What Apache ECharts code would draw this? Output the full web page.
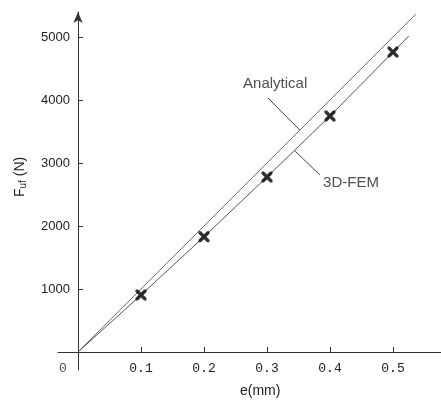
<!DOCTYPE html>
<html>
<head>
<meta charset="utf-8">
<script src="https://cdn.jsdelivr.net/npm/echarts@6/dist/echarts.min.js"></script>
<style>
  html, body { margin: 0; padding: 0; background: #fff; }
  #chart { width: 441px; height: 402px; }
</style>
</head>
<body>
<div id="chart"></div>
<script>
// Load vs. eccentricity: analytical line, 3D-FEM curve and FEM sample points
const xTicks = [0.1, 0.2, 0.3, 0.4, 0.5];
const yTicks = [1000, 2000, 3000, 4000, 5000];

const analyticalE = [0, 0.536];
const analyticalF = [0, 5360];

const femLineE = [0, 0.1, 0.2, 0.3, 0.4, 0.5, 0.525];
const femLineF = [0, 905, 1830, 2778, 3746, 4760, 5016];

const femPointE = [0.1, 0.2, 0.3, 0.4, 0.5];
const femPointF = [905, 1830, 2778, 3746, 4760];

// leader lines and label anchors for the curve names
const analyticalLeaderE = [0.3016, 0.352];
const analyticalLeaderF = [4032, 3524];
const femLeaderE = [0.3444, 0.384];
const femLeaderF = [3190, 2810];
const analyticalTextAt = [0.262, 4254];
const femTextAt = [0.389, 2683];

const pairs = (xs, ys) => xs.map((x, i) => [x, ys[i]]);

const cross = 'path://M0,0 L2.2,0 L5,2.8 L7.8,0 L10,0 L10,2.2 L7.2,5 L10,7.8 L10,10 L7.8,10 L5,7.2 L2.2,10 L0,10 L0,7.8 L2.8,5 L0,2.2 Z';

const sans = 'Liberation Sans, Arial, sans-serif';
const axisColor = '#333';

const chart = echarts.init(document.getElementById('chart'), null, { renderer: 'canvas' });

chart.setOption({
  animation: false,
  backgroundColor: '#fff',
  grid: { left: 58, right: 0, top: 12, bottom: 32, containLabel: false, outerBoundsMode: 'none' },
  xAxis: {
    type: 'value',
    min: -20 / 630,
    max: 363 / 630,
    axisLine: { onZero: true, lineStyle: { color: axisColor, width: 1 } },
    axisTick: { show: true, inside: true, length: 5, customValues: xTicks, lineStyle: { color: axisColor } },
    axisLabel: {
      customValues: xTicks,
      formatter: v => v.toFixed(1),
      margin: -8,
      color: '#222',
      fontFamily: 'Liberation Mono, DejaVu Sans Mono, monospace',
      fontSize: 13
    },
    splitLine: { show: false }
  },
  yAxis: {
    type: 'value',
    min: -18 / 0.063,
    max: 340 / 0.063,
    axisLine: {
      onZero: true,
      symbol: ['none', 'arrow'],
      symbolSize: [7, 11],
      lineStyle: { color: axisColor, width: 1 }
    },
    axisTick: { show: true, inside: true, length: 5, customValues: yTicks, lineStyle: { color: axisColor } },
    axisLabel: {
      customValues: yTicks,
      formatter: v => String(v),
      margin: -12,
      color: '#222',
      fontFamily: sans,
      fontSize: 13
    },
    splitLine: { show: false }
  },
  graphic: [
    {
      type: 'text',
      left: 240,
      top: 384,
      style: { text: 'e(mm)', fill: '#222', font: '14px ' + sans }
    },
    {
      type: 'text',
      x: 12,
      y: 197,
      rotation: Math.PI / 2,
      style: {
        text: '{a|F}{b|uf}{a| (N)}',
        fill: '#222',
        rich: {
          a: { fontSize: 14, fontFamily: sans, fill: '#222' },
          b: { fontSize: 10, fontFamily: sans, fill: '#222', padding: [6, 0, 0, 0] }
        }
      }
    }
  ],
  series: [
    {
      name: 'Analytical',
      type: 'line',
      data: pairs(analyticalE, analyticalF),
      showSymbol: false,
      symbol: 'none',
      lineStyle: { color: '#6e6e6e', width: 1 },
      z: 2
    },
    {
      name: '3D-FEM',
      type: 'line',
      data: pairs(femLineE, femLineF),
      showSymbol: false,
      symbol: 'none',
      lineStyle: { color: '#555', width: 1 },
      z: 2
    },
    {
      name: 'FEM points',
      type: 'scatter',
      data: pairs(femPointE, femPointF),
      symbol: cross,
      symbolSize: 11,
      itemStyle: { color: '#000' },
      z: 5
    },
    {
      type: 'line',
      data: pairs(analyticalLeaderE, analyticalLeaderF),
      symbol: 'none',
      lineStyle: { color: '#444', width: 1 },
      z: 3
    },
    {
      type: 'line',
      data: pairs(femLeaderE, femLeaderF),
      symbol: 'none',
      lineStyle: { color: '#444', width: 1 },
      z: 3
    },
    {
      type: 'scatter',
      symbolSize: 0,
      silent: true,
      data: [
        { value: analyticalTextAt, name: 'Analytical' },
        { value: femTextAt, name: '3D-FEM' }
      ],
      label: {
        show: true,
        position: 'right',
        distance: 0,
        formatter: p => p.name,
        color: '#222',
        fontFamily: sans,
        fontSize: 15
      }
    },
    {
      type: 'scatter',
      symbolSize: 0,
      silent: true,
      data: [[0, 0]],
      label: {
        show: true,
        position: 'inside',
        offset: [-15, 17],
        formatter: '0',
        color: '#222',
        fontFamily: 'Liberation Mono, DejaVu Sans Mono, monospace',
        fontSize: 13
      }
    }
  ]
});
</script>
</body>
</html>
